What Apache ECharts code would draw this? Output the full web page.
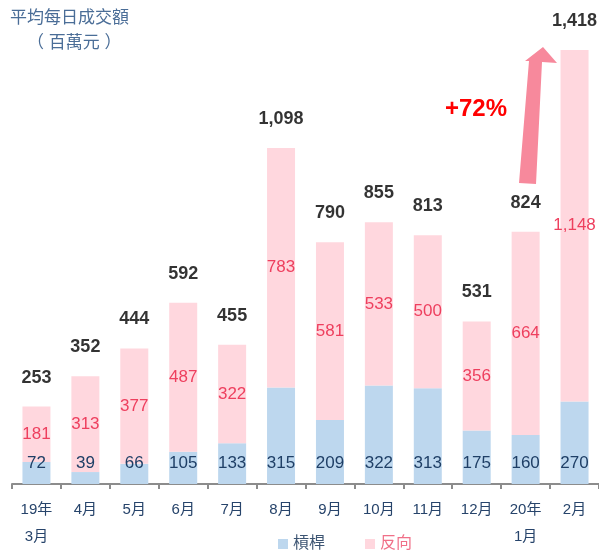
<!DOCTYPE html>
<html>
<head>
<meta charset="utf-8">
<script src="https://cdn.jsdelivr.net/npm/echarts@6/dist/echarts.min.js"></script>
<style>
  html, body { margin: 0; padding: 0; background: #fff; }
  #chart { width: 599px; height: 550px; }
</style>
</head>
<body>
<div id="chart"></div>
<script>
// 月份 (x軸)
var months = ['19年\n3月', '4月', '5月', '6月', '7月', '8月', '9月', '10月', '11月', '12月', '20年\n1月', '2月'];
// 槓桿
var leverage = [72, 39, 66, 105, 133, 315, 209, 322, 313, 175, 160, 270];
// 反向
var inverse = [181, 313, 377, 487, 322, 783, 581, 533, 500, 356, 664, 1148];
// 合計 (柱頂標籤)
var totals = [253, 352, 444, 592, 455, 1098, 790, 855, 813, 531, 824, 1418];

var fmt = function (v) { return Number(v).toLocaleString('en-US'); };
var font = 'Arial, "Liberation Sans", "Noto Sans CJK TC", sans-serif';

var chart = echarts.init(document.getElementById('chart'));

chart.setOption({
  animation: false,
  textStyle: { fontFamily: font },
  grid: { left: 12, right: 0, top: 25, bottom: 65 },
  legend: {
    top: 531,
    left: 273,
    itemWidth: 10,
    itemHeight: 10,
    itemGap: 40,
    textStyle: { fontSize: 16, fontFamily: font },
    data: [
      { name: '槓桿', icon: 'rect', textStyle: { color: '#3d5573' } },
      { name: '反向', icon: 'rect', textStyle: { color: '#f07088' } }
    ]
  },
  xAxis: {
    type: 'category',
    data: months,
    axisLine: { lineStyle: { color: '#8c8c8c', width: 2 } },
    axisTick: { show: true, length: 5, lineStyle: { color: '#8c8c8c', width: 2 } },
    axisLabel: { color: '#27446b', fontSize: 15, lineHeight: 27, margin: 12 }
  },
  yAxis: {
    type: 'value',
    min: 0,
    max: 1500,
    show: false,
    splitLine: { show: false }
  },
  series: [
    {
      name: '槓桿',
      type: 'bar',
      stack: 'total',
      barWidth: 28,
      data: leverage,
      itemStyle: { color: '#bdd7ee' },
      label: {
        show: true,
        position: 'insideBottom',
        distance: 12,
        color: '#1f3f66',
        fontSize: 17,
        formatter: function (p) { return fmt(p.value); }
      }
    },
    {
      name: '反向',
      type: 'bar',
      stack: 'total',
      barWidth: 28,
      data: inverse,
      itemStyle: { color: '#ffd7de' },
      label: {
        show: true,
        position: 'inside',
        color: '#ee3f5e',
        fontSize: 17,
        formatter: function (p) { return fmt(p.value); }
      }
    },
    {
      name: '合計',
      type: 'scatter',
      data: totals,
      symbolSize: 0,
      silent: true,
      label: {
        show: true,
        position: 'top',
        distance: 20,
        color: '#000',
        fontSize: 18,
        fontWeight: 'bold',
        formatter: function (p) { return fmt(p.value); }
      }
    }
  ],
  graphic: [
    {
      type: 'text',
      left: 10,
      top: 10,
      style: {
        text: '平均每日成交額',
        fill: '#4a6d97',
        fontSize: 17,
        fontFamily: font
      }
    },
    {
      type: 'text',
      left: 27,
      top: 35,
      style: {
        text: '（ 百萬元 ）',
        fill: '#4a6d97',
        fontSize: 17,
        fontFamily: font
      }
    },
    {
      type: 'polygon',
      shape: {
        points: [[519, 183], [536, 184], [542, 62], [557, 63], [543, 47], [525, 61], [529, 61]]
      },
      style: { fill: '#f7899c' }
    },
    {
      type: 'text',
      left: 445,
      top: 97,
      style: {
        text: '+72%',
        fill: '#ff0000',
        fontSize: 24,
        fontWeight: 'bold',
        fontFamily: font
      }
    }
  ]
});
</script>
</body>
</html>
